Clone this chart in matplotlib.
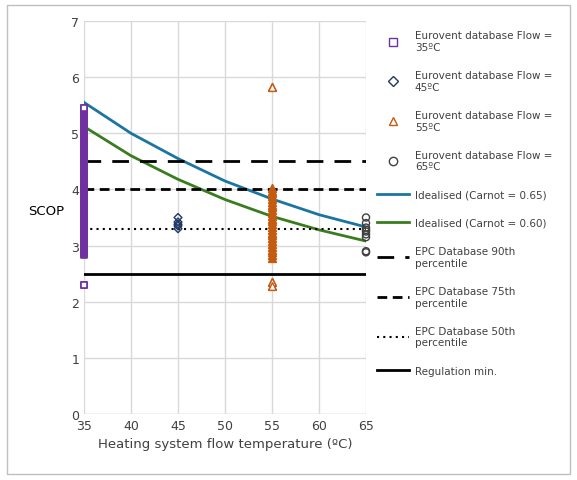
import matplotlib
matplotlib.use("Agg")
import matplotlib.pyplot as plt
from matplotlib.lines import Line2D

flow35 = [5.45, 5.4, 5.35, 5.3, 5.25, 5.2, 5.15, 5.1, 5.05, 5.0, 4.95, 4.9, 4.85, 4.8, 4.75, 4.7, 4.65, 4.6, 4.55,
          4.5, 4.45, 4.4, 4.35, 4.3, 4.25, 4.2, 4.15, 4.1, 4.05, 4.0, 3.95, 3.9, 3.85, 3.8, 3.75, 3.7, 3.65, 3.6,
          3.55, 3.5, 3.45, 3.4, 3.35, 3.3, 3.25, 3.2, 3.15, 3.1, 3.05, 3.0, 2.95, 2.9, 2.85, 2.83, 2.3]
flow45 = [3.5, 3.42, 3.38, 3.35, 3.3]
flow55 = [5.83, 4.02, 3.98, 3.93, 3.88, 3.83, 3.78, 3.73, 3.68, 3.63, 3.58, 3.53, 3.48, 3.43, 3.38, 3.33, 3.28,
          3.23, 3.18, 3.13, 3.08, 3.03, 2.98, 2.93, 2.88, 2.83, 2.78, 2.35, 2.28]
flow65 = [3.5, 3.4, 3.32, 3.28, 3.25, 3.2, 3.15, 2.9, 2.88]
temps = [35, 40, 45, 50, 55, 60, 65]
carnot65 = [5.55, 5.0, 4.55, 4.15, 3.83, 3.55, 3.33]
carnot60 = [5.12, 4.6, 4.18, 3.82, 3.52, 3.28, 3.08]
epc90, epc75, epc50, reg_min = 4.5, 4.0, 3.3, 2.5

fig = plt.figure(figsize=(5.77, 4.81), dpi=100)
fig.patches.append(plt.Rectangle((0.012, 0.012), 0.976, 0.976, transform=fig.transFigure,
                                 fill=False, edgecolor="#bfbfbf", lw=1))
ax = fig.add_axes([84/577, 1-415/481, 282/577, 393/481])

ax.scatter([35]*len(flow35), flow35, marker="s", s=24, facecolors="#7030a0", edgecolors="#7030a0", lw=1.2, zorder=3, clip_on=False)
ax.scatter([35]*2, [flow35[0], flow35[-1]], marker="s", s=24, facecolors="white", edgecolors="#7030a0", lw=1.2, zorder=4, clip_on=False)
ax.scatter([45]*len(flow45), flow45, marker="D", s=16, facecolors="none", edgecolors="#1f3864", lw=1, zorder=3, clip_on=False)
ax.scatter([55]*len(flow55), flow55, marker="^", s=30, facecolors="#c55a11", edgecolors="#c55a11", lw=1.2, zorder=3, clip_on=False)
ax.scatter([55]*3, [flow55[0], flow55[-2], flow55[-1]], marker="^", s=30, facecolors="white", edgecolors="#c55a11", lw=1, zorder=4, clip_on=False)
ax.scatter([65]*len(flow65), flow65, marker="o", s=26, facecolors="none", edgecolors="#404040", lw=1, zorder=3, clip_on=False)
ax.plot(temps, carnot65, color="#1b75a0", lw=2)
ax.plot(temps, carnot60, color="#3a7d1e", lw=2)
ax.plot([35, 65], [epc90]*2, color="black", lw=2, dashes=(6, 4))
ax.plot([35, 65], [epc75]*2, color="black", lw=2, dashes=(3.5, 2))
ax.plot([35, 65], [epc50]*2, color="black", lw=1.5, dashes=(1, 2))
ax.plot([35, 65], [reg_min]*2, color="black", lw=2)

ax.set_xlim(35, 65)
ax.set_ylim(0, 7)
ax.set_xticks(range(35, 66, 5))
ax.set_yticks(range(0, 8))
ax.grid(True, color="#d9d9d9", lw=1)
ax.set_axisbelow(True)
for s in ax.spines.values():
    s.set_visible(False)
ax.axhline(0, color="#d9d9d9", lw=1)
ax.tick_params(length=0, labelsize=9, colors="#404040")
ax.set_xlabel("Heating system flow temperature (ºC)", fontsize=9.5, color="#404040")
ax.set_ylabel("SCOP", fontsize=9.5, color="black", rotation=0, labelpad=18)

handles = [
    Line2D([], [], ls="none", marker="s", mfc="none", mec="#7030a0", ms=6),
    Line2D([], [], ls="none", marker="D", mfc="none", mec="#1f3864", ms=5),
    Line2D([], [], ls="none", marker="^", mfc="none", mec="#c55a11", ms=6),
    Line2D([], [], ls="none", marker="o", mfc="none", mec="#404040", ms=6),
    Line2D([], [], color="#1b75a0", lw=2),
    Line2D([], [], color="#3a7d1e", lw=2),
    Line2D([], [], color="black", lw=2, dashes=(6, 4)),
    Line2D([], [], color="black", lw=2, dashes=(3.5, 2)),
    Line2D([], [], color="black", lw=1.5, dashes=(1, 2)),
    Line2D([], [], color="black", lw=2),
]
labels = ["Eurovent database Flow =\n35ºC", "Eurovent database Flow =\n45ºC",
          "Eurovent database Flow =\n55ºC", "Eurovent database Flow =\n65ºC",
          "Idealised (Carnot = 0.65)", "Idealised (Carnot = 0.60)",
          "EPC Database 90th\npercentile", "EPC Database 75th\npercentile",
          "EPC Database 50th\npercentile", "Regulation min."]
fig.legend(handles, labels, loc="upper left", bbox_to_anchor=(368/577, 1-22/481), frameon=False,
           fontsize=7.5, labelspacing=1.75, handlelength=3.0, handletextpad=0.6, labelcolor="#404040")
fig.savefig("out.png", dpi=100)
